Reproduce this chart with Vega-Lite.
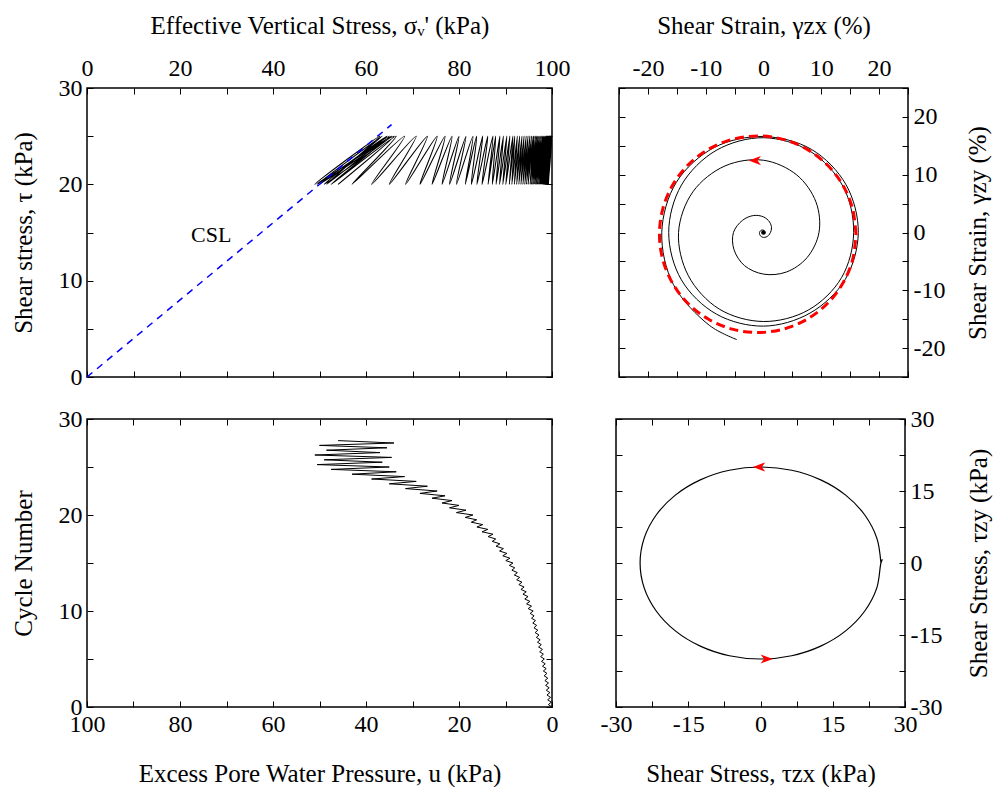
{
  "$schema": "https://vega.github.io/schema/vega-lite/v6.json",
  "padding": {"left": 10, "top": 12, "right": 0, "bottom": 0},
  "background": "white",
  "config": {
    "font": "Liberation Serif",
    "view": {"stroke": "black", "strokeWidth": 1.5},
    "axis": {
      "labelFont": "Liberation Serif", "labelFontSize": 24, "labelColor": "black",
      "titleFont": "Liberation Serif", "titleFontSize": 25, "titleFontWeight": "normal", "titleColor": "black",
      "tickColor": "black", "tickSize": -6, "tickWidth": 1, "domain": false, "grid": false,
      "labelPadding": 11, "labelFlush": false, "labelOverlap": false, "minExtent": 0
    }
  },
  "datasets": {
    "cyc": [
      {"N":0,"u":0.00,"sv":100.00,"tau":25},{"N":0.25,"u":0.78,"sv":99.22,"tau":20},{"N":0.5,"u":0.15,"sv":99.85,"tau":25},{"N":0.75,"u":0.93,"sv":99.07,"tau":20},
      {"N":1,"u":0.30,"sv":99.70,"tau":25},{"N":1.25,"u":1.08,"sv":98.92,"tau":20},{"N":1.5,"u":0.45,"sv":99.55,"tau":25},{"N":1.75,"u":1.23,"sv":98.77,"tau":20},
      {"N":2,"u":0.60,"sv":99.40,"tau":25},{"N":2.25,"u":1.38,"sv":98.62,"tau":20},{"N":2.5,"u":0.75,"sv":99.25,"tau":25},{"N":2.75,"u":1.53,"sv":98.47,"tau":20},
      {"N":3,"u":0.90,"sv":99.10,"tau":25},{"N":3.25,"u":1.69,"sv":98.31,"tau":20},{"N":3.5,"u":1.08,"sv":98.92,"tau":25},{"N":3.75,"u":1.86,"sv":98.14,"tau":20},
      {"N":4,"u":1.25,"sv":98.75,"tau":25},{"N":4.25,"u":2.05,"sv":97.95,"tau":20},{"N":4.5,"u":1.45,"sv":98.55,"tau":25},{"N":4.75,"u":2.25,"sv":97.75,"tau":20},
      {"N":5,"u":1.65,"sv":98.35,"tau":25},{"N":5.25,"u":2.45,"sv":97.55,"tau":20},{"N":5.5,"u":1.85,"sv":98.15,"tau":25},{"N":5.75,"u":2.65,"sv":97.35,"tau":20},
      {"N":6,"u":2.05,"sv":97.95,"tau":25},{"N":6.25,"u":2.88,"sv":97.12,"tau":20},{"N":6.5,"u":2.30,"sv":97.70,"tau":25},{"N":6.75,"u":3.13,"sv":96.87,"tau":20},
      {"N":7,"u":2.55,"sv":97.45,"tau":25},{"N":7.25,"u":3.38,"sv":96.62,"tau":20},{"N":7.5,"u":2.80,"sv":97.20,"tau":25},{"N":7.75,"u":3.63,"sv":96.37,"tau":20},
      {"N":8,"u":3.05,"sv":96.95,"tau":25},{"N":8.25,"u":3.88,"sv":96.12,"tau":20},{"N":8.5,"u":3.30,"sv":96.70,"tau":25},{"N":8.75,"u":4.13,"sv":95.87,"tau":20},
      {"N":9,"u":3.55,"sv":96.45,"tau":25},{"N":9.25,"u":4.40,"sv":95.60,"tau":20},{"N":9.5,"u":3.85,"sv":96.15,"tau":25},{"N":9.75,"u":4.70,"sv":95.30,"tau":20},
      {"N":10,"u":4.05,"sv":95.95,"tau":25},{"N":10.25,"u":5.13,"sv":94.87,"tau":20},{"N":10.5,"u":4.40,"sv":95.60,"tau":25},{"N":10.75,"u":5.48,"sv":94.52,"tau":20},
      {"N":11,"u":4.75,"sv":95.25,"tau":25},{"N":11.25,"u":5.85,"sv":94.15,"tau":20},{"N":11.5,"u":5.15,"sv":94.85,"tau":25},{"N":11.75,"u":6.25,"sv":93.75,"tau":20},
      {"N":12,"u":5.55,"sv":94.45,"tau":25},{"N":12.25,"u":6.68,"sv":93.32,"tau":20},{"N":12.5,"u":6.00,"sv":94.00,"tau":25},{"N":12.75,"u":7.13,"sv":92.87,"tau":20},
      {"N":13,"u":6.45,"sv":93.55,"tau":25},{"N":13.25,"u":7.60,"sv":92.40,"tau":20},{"N":13.5,"u":6.95,"sv":93.05,"tau":25},{"N":13.75,"u":8.10,"sv":91.90,"tau":20},
      {"N":14,"u":7.45,"sv":92.55,"tau":25},{"N":14.25,"u":8.63,"sv":91.37,"tau":20},{"N":14.5,"u":8.00,"sv":92.00,"tau":25},{"N":14.75,"u":9.18,"sv":90.82,"tau":20},
      {"N":15,"u":8.40,"sv":91.60,"tau":25},{"N":15.25,"u":9.93,"sv":90.07,"tau":20},{"N":15.5,"u":9.05,"sv":90.95,"tau":25},{"N":15.75,"u":10.58,"sv":89.42,"tau":20},
      {"N":16,"u":9.70,"sv":90.30,"tau":25},{"N":16.25,"u":11.28,"sv":88.72,"tau":20},{"N":16.5,"u":10.45,"sv":89.55,"tau":25},{"N":16.75,"u":12.03,"sv":87.97,"tau":20},
      {"N":17,"u":11.20,"sv":88.80,"tau":25},{"N":17.25,"u":12.85,"sv":87.15,"tau":20},{"N":17.5,"u":12.10,"sv":87.90,"tau":25},{"N":17.75,"u":13.75,"sv":86.25,"tau":20},
      {"N":18,"u":12.70,"sv":87.30,"tau":25},{"N":18.25,"u":15.05,"sv":84.95,"tau":20},{"N":18.5,"u":13.80,"sv":86.20,"tau":25},{"N":18.75,"u":16.15,"sv":83.85,"tau":20},
      {"N":19,"u":14.90,"sv":85.10,"tau":25},{"N":19.25,"u":17.35,"sv":82.65,"tau":20},{"N":19.5,"u":16.20,"sv":83.80,"tau":25},{"N":19.75,"u":18.65,"sv":81.35,"tau":20},
      {"N":20,"u":17.00,"sv":83.00,"tau":25},{"N":20.25,"u":20.55,"sv":79.45,"tau":20},{"N":20.5,"u":18.50,"sv":81.50,"tau":25},{"N":20.75,"u":22.05,"sv":77.95,"tau":20},
      {"N":21,"u":20.00,"sv":80.00,"tau":25},{"N":21.25,"u":23.65,"sv":76.35,"tau":20},{"N":21.5,"u":21.50,"sv":78.50,"tau":25},{"N":21.75,"u":25.80,"sv":74.20,"tau":20},
      {"N":22,"u":23.00,"sv":77.00,"tau":25},{"N":22.25,"u":28.40,"sv":71.60,"tau":20},{"N":22.5,"u":24.70,"sv":75.30,"tau":25},{"N":22.75,"u":31.50,"sv":68.50,"tau":20},
      {"N":23,"u":26.80,"sv":73.20,"tau":25},{"N":23.25,"u":35.00,"sv":65.00,"tau":20},{"N":23.5,"u":29.20,"sv":70.80,"tau":25},{"N":23.75,"u":38.80,"sv":61.20,"tau":20},
      {"N":24,"u":31.70,"sv":68.30,"tau":25},{"N":24.25,"u":43.00,"sv":57.00,"tau":20},{"N":24.5,"u":33.50,"sv":66.50,"tau":25},{"N":24.75,"u":47.50,"sv":52.50,"tau":20},
      {"N":25,"u":35.00,"sv":65.00,"tau":25},{"N":25.25,"u":50.50,"sv":49.50,"tau":20},{"N":25.5,"u":36.50,"sv":63.50,"tau":25},{"N":25.75,"u":49.00,"sv":51.00,"tau":20},
      {"N":26,"u":34.50,"sv":65.50,"tau":25},{"N":26.25,"u":51.00,"sv":49.00,"tau":20},{"N":26.5,"u":37.00,"sv":63.00,"tau":25},{"N":26.75,"u":48.50,"sv":51.50,"tau":20},
      {"N":27,"u":35.50,"sv":64.50,"tau":25},{"N":27.25,"u":50.00,"sv":50.00,"tau":20},{"N":27.5,"u":34.00,"sv":66.00,"tau":25},{"N":27.75,"u":46.00,"sv":54.00,"tau":20}
    ],
    "spiral": [
      {"i":0,"gx":0,"gy":0},{"i":1,"gx":0.17,"gy":0.10},{"i":2,"gx":0.15,"gy":0.26},{"i":3,"gx":0,"gy":0.40},{"i":4,"gx":-0.25,"gy":0.43},{"i":5,"gx":-0.52,"gy":0.30},
      {"i":6,"gx":-0.70,"gy":0},{"i":7,"gx":-0.65,"gy":-0.38},{"i":8,"gx":-0.40,"gy":-0.69},{"i":9,"gx":0,"gy":-0.85},{"i":10,"gx":0.45,"gy":-0.78},{"i":11,"gx":0.87,"gy":-0.50},
      {"i":12,"gx":1.20,"gy":0},{"i":13,"gx":1.39,"gy":0.80},{"i":14,"gx":1.05,"gy":1.82},{"i":15,"gx":0,"gy":2.70},{"i":16,"gx":-1.70,"gy":2.94},{"i":17,"gx":-3.64,"gy":2.10},
      {"i":18,"gx":-5.20,"gy":0},{"i":19,"gx":-5.11,"gy":-2.95},{"i":20,"gx":-3.30,"gy":-5.72},{"i":21,"gx":0,"gy":-7.20},{"i":22,"gx":3.95,"gy":-6.84},{"i":23,"gx":7.53,"gy":-4.35},
      {"i":24,"gx":9.60,"gy":0},{"i":25,"gx":9.09,"gy":5.25},{"i":26,"gx":5.75,"gy":9.96},{"i":27,"gx":0,"gy":12.50},{"i":28,"gx":-6.65,"gy":11.52},{"i":29,"gx":-12.21,"gy":7.05},
      {"i":30,"gx":-14.70,"gy":0},{"i":31,"gx":-12.99,"gy":-7.50},{"i":32,"gx":-7.65,"gy":-13.25},{"i":33,"gx":0,"gy":-15.40},{"i":34,"gx":7.75,"gy":-13.42},{"i":35,"gx":13.51,"gy":-7.80},
      {"i":36,"gx":15.60,"gy":0},{"i":37,"gx":13.77,"gy":7.95},{"i":38,"gx":8.10,"gy":14.03},{"i":39,"gx":0,"gy":16.40},{"i":40,"gx":-8.20,"gy":14.20},{"i":41,"gx":-14.20,"gy":8.20},
      {"i":42,"gx":-16.40,"gy":0},{"i":43,"gx":-14.20,"gy":-8.20},{"i":44,"gx":-8.15,"gy":-14.12},{"i":45,"gx":0,"gy":-16.20},{"i":46,"gx":8.05,"gy":-13.94},{"i":47,"gx":14.12,"gy":-8.15},
      {"i":48,"gx":16.40,"gy":0},{"i":49,"gx":14.29,"gy":8.25},{"i":50,"gx":8.30,"gy":14.38},{"i":51,"gx":0,"gy":16.60},{"i":52,"gx":-8.50,"gy":14.72},{"i":53,"gx":-15.07,"gy":8.70},
      {"i":54,"gx":-17.60,"gy":0},{"i":55,"gx":-15.59,"gy":-9.00},{"i":56,"gx":-9.30,"gy":-16.11},{"i":57,"gx":-4.62,"gy":-18.53}
    ],
    "circ": [
      {"i":0,"gx":16.00,"gy":-0.30},{"i":1,"gx":15.42,"gy":4.10},{"i":2,"gx":13.72,"gy":8.20},{"i":3,"gx":11.02,"gy":11.72},{"i":4,"gx":7.50,"gy":14.42},
      {"i":5,"gx":3.40,"gy":16.12},{"i":6,"gx":-1.00,"gy":16.70},{"i":7,"gx":-5.40,"gy":16.12},{"i":8,"gx":-9.50,"gy":14.42},{"i":9,"gx":-13.02,"gy":11.72},
      {"i":10,"gx":-15.72,"gy":8.20},{"i":11,"gx":-17.42,"gy":4.10},{"i":12,"gx":-18.00,"gy":-0.30},{"i":13,"gx":-17.42,"gy":-4.70},{"i":14,"gx":-15.72,"gy":-8.80},
      {"i":15,"gx":-13.02,"gy":-12.32},{"i":16,"gx":-9.50,"gy":-15.02},{"i":17,"gx":-5.40,"gy":-16.72},{"i":18,"gx":-1.00,"gy":-17.30},{"i":19,"gx":3.40,"gy":-16.72},
      {"i":20,"gx":7.50,"gy":-15.02},{"i":21,"gx":11.02,"gy":-12.32},{"i":22,"gx":13.72,"gy":-8.80},{"i":23,"gx":15.42,"gy":-4.70},{"i":24,"gx":16.00,"gy":-0.30}
    ],
    "ell": [
      {"i":0,"tx":25,"ty":0},{"i":1,"tx":24.15,"ty":5.18},{"i":2,"tx":21.65,"ty":10},{"i":3,"tx":17.68,"ty":14.14},{"i":4,"tx":12.5,"ty":17.32},
      {"i":5,"tx":6.47,"ty":19.32},{"i":6,"tx":0,"ty":20},{"i":7,"tx":-6.47,"ty":19.32},{"i":8,"tx":-12.5,"ty":17.32},{"i":9,"tx":-17.68,"ty":14.14},
      {"i":10,"tx":-21.65,"ty":10},{"i":11,"tx":-24.15,"ty":5.18},{"i":12,"tx":-25,"ty":0},{"i":13,"tx":-24.15,"ty":-5.18},{"i":14,"tx":-21.65,"ty":-10},
      {"i":15,"tx":-17.68,"ty":-14.14},{"i":16,"tx":-12.5,"ty":-17.32},{"i":17,"tx":-6.47,"ty":-19.32},{"i":18,"tx":0,"ty":-20},{"i":19,"tx":6.47,"ty":-19.32},
      {"i":20,"tx":12.5,"ty":-17.32},{"i":21,"tx":17.68,"ty":-14.14},{"i":22,"tx":21.65,"ty":-10},{"i":23,"tx":24.15,"ty":-5.18},{"i":24,"tx":25,"ty":0},{"i":25,"tx":25.3,"ty":0.8}
    ]
  },
  "vconcat": [
    {
      "hconcat": [
        {
          "width": 465, "height": 289,
          "layer": [
            {
              "data": {"name": "cyc"},
              "mark": {"type": "line", "color": "black", "strokeWidth": 1.1, "interpolate": "catmull-rom", "clip": true},
              "encoding": {
                "x": {"field": "sv", "type": "quantitative", "scale": {"domain": [0, 100], "nice": false, "zero": false},
                  "axis": {"orient": "top", "values": [0,10,20,30,40,50,60,70,80,90,100], "labelExpr": "datum.value % 20 === 0 ? '' + datum.value : ''", "labelPadding": 14, "title": "Effective Vertical Stress, σᵥ' (kPa)", "titlePadding": 18}},
                "y": {"field": "tau", "type": "quantitative", "scale": {"domain": [0, 30], "nice": false, "zero": false},
                  "axis": {"orient": "left", "values": [0,5,10,15,20,25,30], "labelExpr": "datum.value % 10 === 0 ? '' + datum.value : ''", "title": "Shear stress, τ (kPa)", "titlePadding": 22}},
                "order": {"field": "N", "type": "quantitative"}
              }
            },
            {
              "data": {"values": [{"sv": 0, "tau": 0}, {"sv": 65.5, "tau": 26.2}]},
              "mark": {"type": "line", "color": "#0000ff", "strokeWidth": 1.5, "strokeDash": [7, 6]},
              "encoding": {
                "x": {"field": "sv", "type": "quantitative", "scale": {"domain": [0, 100], "nice": false, "zero": false},
                  "axis": {"orient": "bottom", "values": [0,10,20,30,40,50,60,70,80,90,100], "labels": false, "title": null}},
                "y": {"field": "tau", "type": "quantitative", "scale": {"domain": [0, 30], "nice": false, "zero": false},
                  "axis": {"orient": "right", "values": [0,5,10,15,20,25,30], "labels": false, "title": null}}
              }
            },
            {
              "data": {"values": [{"sv": 26.7, "tau": 14.7, "lab": "CSL"}]},
              "mark": {"type": "text", "font": "Liberation Serif", "fontSize": 22, "color": "black"},
              "encoding": {
                "x": {"field": "sv", "type": "quantitative", "axis": null},
                "y": {"field": "tau", "type": "quantitative", "axis": null},
                "text": {"field": "lab"}
              }
            }
          ],
          "resolve": {"axis": {"x": "independent", "y": "independent"}}
        },
        {
          "width": 289, "height": 289,
          "layer": [
            {
              "data": {"name": "spiral"},
              "mark": {"type": "line", "color": "black", "strokeWidth": 1, "interpolate": "catmull-rom"},
              "encoding": {
                "x": {"field": "gx", "type": "quantitative", "scale": {"domain": [-25, 25], "nice": false, "zero": false},
                  "axis": {"orient": "top", "values": [-25,-20,-15,-10,-5,0,5,10,15,20,25], "labelExpr": "datum.value % 10 === 0 ? '' + datum.value : ''", "labelPadding": 14, "title": "Shear Strain, γzx (%)", "titlePadding": 18}},
                "y": {"field": "gy", "type": "quantitative", "scale": {"domain": [-25, 25], "nice": false, "zero": false},
                  "axis": {"orient": "right", "values": [-25,-20,-15,-10,-5,0,5,10,15,20,25], "labelExpr": "datum.value % 10 === 0 ? '' + datum.value : ''", "title": "Shear Strain, γzy (%)", "titleAngle": 270, "titleBaseline": "top", "titlePadding": 21}},
                "order": {"field": "i", "type": "quantitative"}
              }
            },
            {
              "data": {"name": "circ"},
              "mark": {"type": "line", "color": "#ff0000", "strokeWidth": 3, "strokeDash": [9, 5], "interpolate": "catmull-rom"},
              "encoding": {
                "x": {"field": "gx", "type": "quantitative", "scale": {"domain": [-25, 25], "nice": false, "zero": false},
                  "axis": {"orient": "bottom", "values": [-25,-20,-15,-10,-5,0,5,10,15,20,25], "labels": false, "title": null}},
                "y": {"field": "gy", "type": "quantitative", "scale": {"domain": [-25, 25], "nice": false, "zero": false},
                  "axis": {"orient": "left", "values": [-25,-20,-15,-10,-5,0,5,10,15,20,25], "labels": false, "title": null}},
                "order": {"field": "i", "type": "quantitative"}
              }
            },
            {
              "data": {"values": [{"gx": 0, "gy": 0}]},
              "mark": {"type": "point", "filled": true, "color": "black", "size": 22, "opacity": 1},
              "encoding": {
                "x": {"field": "gx", "type": "quantitative", "axis": null},
                "y": {"field": "gy", "type": "quantitative", "axis": null}
              }
            },
            {
              "data": {"values": [{"gx": -1.5, "gy": 12.45}]},
              "mark": {"type": "point", "filled": true, "color": "#ff0000", "opacity": 1, "size": 150, "shape": "M-1,0L1,-0.75L0.45,0L1,0.75Z"},
              "encoding": {
                "x": {"field": "gx", "type": "quantitative", "axis": null},
                "y": {"field": "gy", "type": "quantitative", "axis": null}
              }
            }
          ],
          "resolve": {"axis": {"x": "independent", "y": "independent"}}
        }
      ],
      "spacing": 46
    },
    {
      "hconcat": [
        {
          "width": 465, "height": 288,
          "layer": [
            {
              "data": {"name": "cyc"},
              "mark": {"type": "line", "color": "black", "strokeWidth": 1},
              "encoding": {
                "x": {"field": "u", "type": "quantitative", "scale": {"domain": [0, 100], "nice": false, "zero": false, "reverse": true},
                  "axis": {"orient": "bottom", "values": [0,10,20,30,40,50,60,70,80,90,100], "labelExpr": "datum.value % 20 === 0 ? '' + datum.value : ''", "title": "Excess Pore Water Pressure, u (kPa)", "titlePadding": 25}},
                "y": {"field": "N", "type": "quantitative", "scale": {"domain": [0, 30], "nice": false, "zero": false},
                  "axis": {"orient": "left", "values": [0,5,10,15,20,25,30], "labelExpr": "datum.value % 10 === 0 ? '' + datum.value : ''", "title": "Cycle Number", "titlePadding": 22}},
                "order": {"field": "N", "type": "quantitative"}
              }
            },
            {
              "data": {"values": [{"u": 0, "N": 0}]},
              "mark": {"type": "point", "opacity": 0},
              "encoding": {
                "x": {"field": "u", "type": "quantitative", "scale": {"domain": [0, 100], "nice": false, "zero": false, "reverse": true},
                  "axis": {"orient": "top", "values": [0,10,20,30,40,50,60,70,80,90,100], "labels": false, "title": null}},
                "y": {"field": "N", "type": "quantitative", "scale": {"domain": [0, 30], "nice": false, "zero": false},
                  "axis": {"orient": "right", "values": [0,5,10,15,20,25,30], "labels": false, "title": null}}
              }
            }
          ],
          "resolve": {"axis": {"x": "independent", "y": "independent"}}
        },
        {
          "width": 289, "height": 288,
          "layer": [
            {
              "data": {"name": "ell"},
              "mark": {"type": "line", "color": "black", "strokeWidth": 1.2, "interpolate": "catmull-rom"},
              "encoding": {
                "x": {"field": "tx", "type": "quantitative", "scale": {"domain": [-30, 30], "nice": false, "zero": false},
                  "axis": {"orient": "bottom", "values": [-30,-22.5,-15,-7.5,0,7.5,15,22.5,30], "labelExpr": "datum.value % 15 === 0 ? '' + datum.value : ''", "title": "Shear Stress, τzx (kPa)", "titlePadding": 25}},
                "y": {"field": "ty", "type": "quantitative", "scale": {"domain": [-30, 30], "nice": false, "zero": false},
                  "axis": {"orient": "right", "values": [-30,-22.5,-15,-7.5,0,7.5,15,22.5,30], "labelExpr": "datum.value % 15 === 0 ? '' + datum.value : ''", "title": "Shear Stress, τzy (kPa)", "titleAngle": 270, "titleBaseline": "top", "titlePadding": 25}},
                "order": {"field": "i", "type": "quantitative"}
              }
            },
            {
              "data": {"values": [{"tx": -0.3, "ty": 20}]},
              "mark": {"type": "point", "filled": true, "color": "#ff0000", "opacity": 1, "size": 150, "shape": "M-1,0L1,-0.75L0.45,0L1,0.75Z"},
              "encoding": {
                "x": {"field": "tx", "type": "quantitative", "scale": {"domain": [-30, 30], "nice": false, "zero": false},
                  "axis": {"orient": "top", "values": [-30,-22.5,-15,-7.5,0,7.5,15,22.5,30], "labels": false, "title": null}},
                "y": {"field": "ty", "type": "quantitative", "scale": {"domain": [-30, 30], "nice": false, "zero": false},
                  "axis": {"orient": "left", "values": [-30,-22.5,-15,-7.5,0,7.5,15,22.5,30], "labels": false, "title": null}}
              }
            },
            {
              "data": {"values": [{"tx": 1.3, "ty": -20}]},
              "mark": {"type": "point", "filled": true, "color": "#ff0000", "opacity": 1, "size": 150, "shape": "M1,0L-1,-0.75L-0.45,0L-1,0.75Z"},
              "encoding": {
                "x": {"field": "tx", "type": "quantitative", "axis": null},
                "y": {"field": "ty", "type": "quantitative", "axis": null}
              }
            }
          ],
          "resolve": {"axis": {"x": "independent", "y": "independent"}}
        }
      ],
      "spacing": 40
    }
  ],
  "spacing": 16
}
